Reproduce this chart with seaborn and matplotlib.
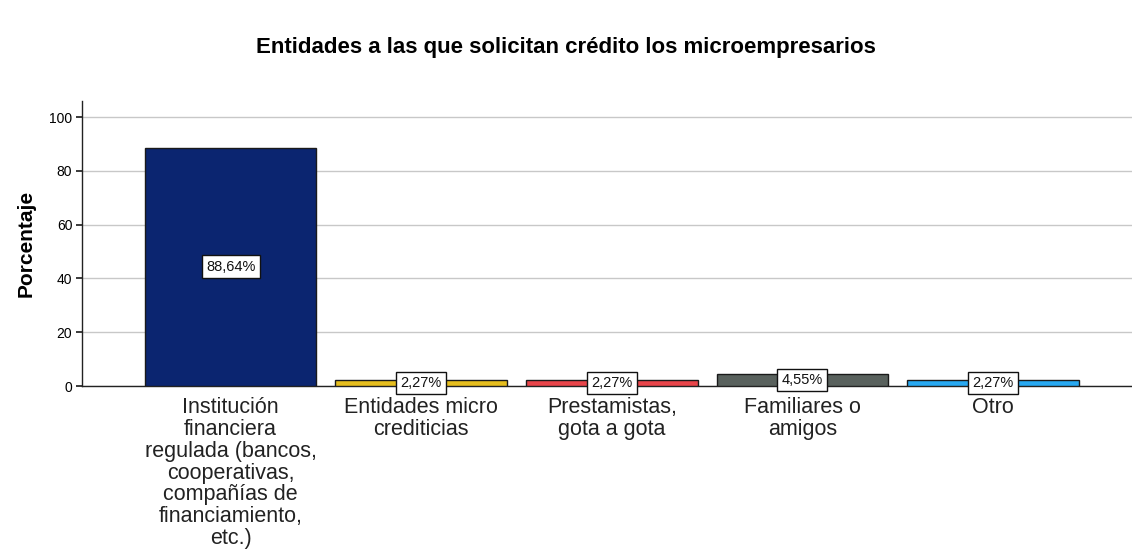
import matplotlib
matplotlib.use("Agg")
import matplotlib.pyplot as plt
import seaborn as sns
import pandas as pd

categories = [
    "Institución\nfinanciera\nregulada (bancos,\ncooperativas,\ncompañías de\nfinanciamiento,\netc.)",
    "Entidades micro\ncrediticias",
    "Prestamistas,\ngota a gota",
    "Familiares o\namigos",
    "Otro",
]
values = [88.64, 2.27, 2.27, 4.55, 2.27]
labels = ["88,64%", "2,27%", "2,27%", "4,55%", "2,27%"]
colors = ["#0b2570", "#e6be1e", "#e8454a", "#59615d", "#28a9f2"]
yticks = [0, 20, 40, 60, 80, 100]

sns.set_theme(style="white")
plt.rcParams["font.family"] = ["Liberation Sans", "DejaVu Sans"]
plt.rcParams["text.color"] = "black"
plt.rcParams["axes.labelcolor"] = "black"
plt.rcParams["xtick.color"] = "black"
plt.rcParams["ytick.color"] = "black"

df = pd.DataFrame({"cat": categories, "val": values})

fig = plt.figure(figsize=(11.32, 5.5), dpi=100)
ax = fig.add_axes([82 / 1132, 1 - 386 / 550, 1 - 82 / 1132, (386 - 101) / 550])

sns.barplot(data=df, x="cat", y="val", hue="cat", palette=colors, legend=False,
            width=0.9, edgecolor="#1a1a1a", linewidth=1.0, saturation=1, ax=ax, zorder=3)

ax.set_ylim(0, 106)
ax.set_xlim(-0.78, 4.73)
ax.set_yticks(yticks)
ax.set_yticklabels([str(t) for t in yticks], fontsize=10)
ax.yaxis.grid(True, color="#c8c8c8", linewidth=1.0, zorder=0)
ax.xaxis.grid(False)
ax.set_axisbelow(True)
for s in ["top", "right"]:
    ax.spines[s].set_visible(False)
ax.spines["left"].set_color("#222222")
ax.spines["bottom"].set_color("#222222")
ax.spines["left"].set_linewidth(1.0)
ax.spines["bottom"].set_linewidth(1.0)
ax.tick_params(axis="y", length=4, color="#222222", pad=3, left=True)
ax.tick_params(axis="x", length=0, pad=8)
for t in ax.get_xticklabels():
    t.set_fontsize(15.5)
    t.set_linespacing(1.05)
    t.set_color("#222222")

ax.set_xlabel("")
ax.set_ylabel("Porcentaje", fontsize=15, fontweight="bold", labelpad=10)

for i, (v, lab) in enumerate(zip(values, labels)):
    ax.text(i, v / 2, lab, ha="center", va="center", fontsize=10.5, color="#111111", zorder=5,
            bbox=dict(boxstyle="square,pad=0.3", facecolor="white", edgecolor="#111111", linewidth=1.0))

fig.text(0.5, 1 - 47 / 550, "Entidades a las que solicitan crédito los microempresarios",
         ha="center", va="center", fontsize=16, fontweight="bold")

fig.savefig("out.png", dpi=100)
